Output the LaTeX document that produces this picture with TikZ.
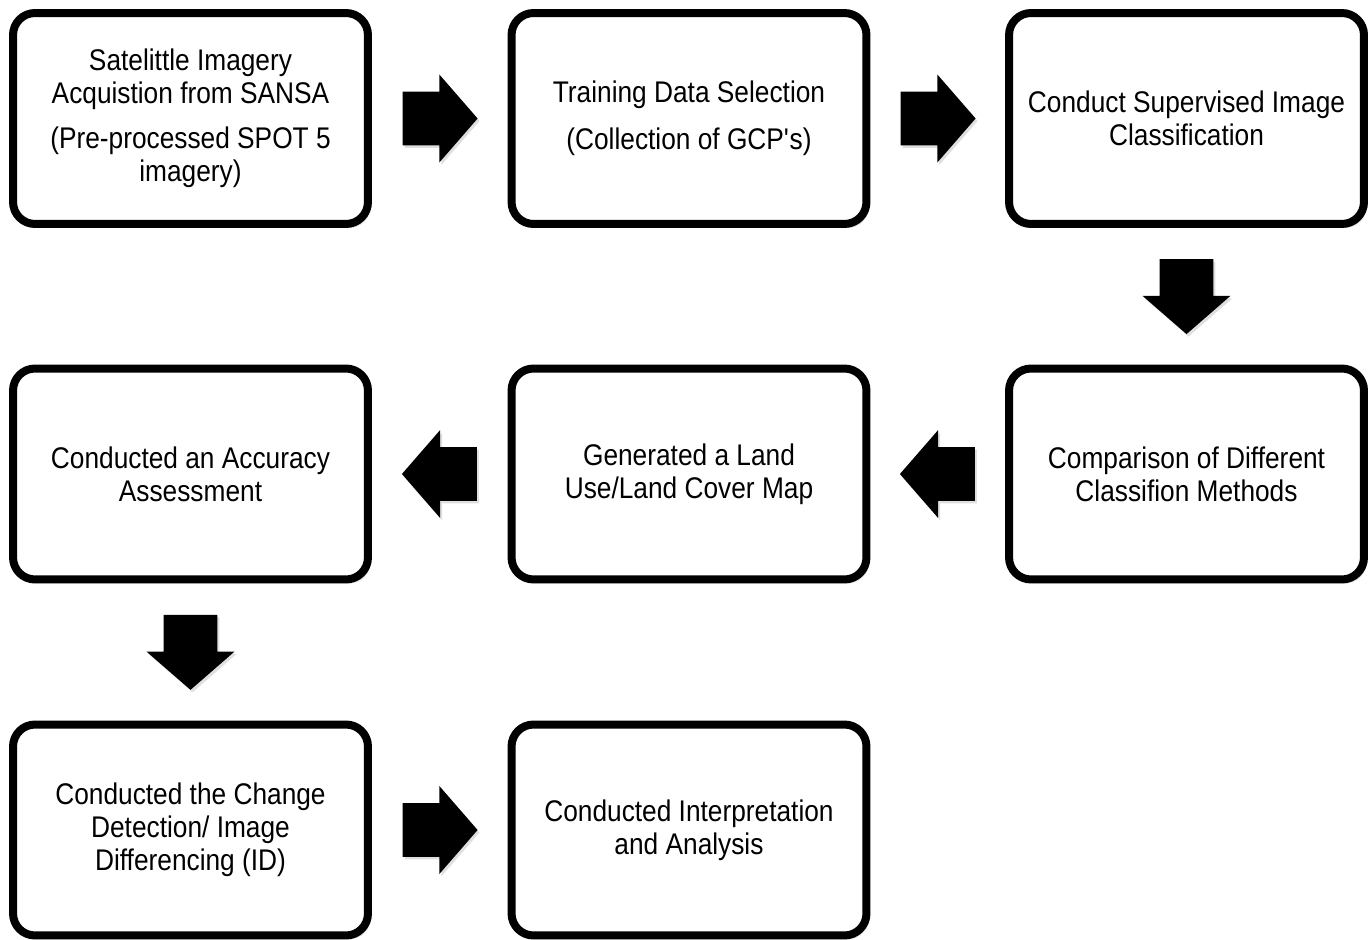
\documentclass[tikz,border=0pt]{standalone}
\usepackage{fontspec}
\setmainfont{Liberation Sans}[FakeStretch=0.88]
\usetikzlibrary{shapes.arrows,shadows,calc}
\begin{document}
\begin{tikzpicture}[x=0.02cm, y=-0.02cm]
    % Node styles
    \tikzset{process box/.style={rectangle, rounded corners=0.44cm, draw=black, line width=0.16cm, fill=white,
        minimum width=7.1cm, minimum height=4.22cm, align=center,
        font=\fontsize{17pt}{18.8pt}\selectfont,
        drop shadow={shadow xshift=0.06cm, shadow yshift=-0.08cm, opacity=0.25}}}
    \tikzset{block arrow/.style={single arrow, fill=black, draw=none, inner xsep=0pt, inner ysep=0.53cm,
        minimum height=1.5cm, minimum width=1.74cm, single arrow head extend=0.34cm,
        single arrow tip angle=98, anchor=tail,
        drop shadow={shadow xshift=0.04cm, shadow yshift=-0.05cm, opacity=0.25}}}
    \useasboundingbox (0,0) rectangle (1371,939);

    % --- Row 1: acquisition, training data, classification ---
    \node[process box] (acquire) at (190.5, 118.5) {Satelittle Imagery\\Acquistion from SANSA\\[6.5pt](Pre-processed SPOT 5\\imagery)};
    \node[process box] (training) at (689, 118.5) {Training Data Selection\\[8pt](Collection of GCP\textquotesingle s)};
    \node[process box] (classify) at (1186.5, 118.5) {Conduct Supervised Image\\Classification};

    % --- Row 2: comparison, land cover map, accuracy ---
    \node[process box] (compare) at (1186.5, 474) {Comparison of Different\\Classifion Methods};
    \node[process box] (lulcmap) at (689, 474) {Generated a Land\\Use/Land Cover Map};
    \node[process box] (accuracy) at (190.5, 474) {Conducted an Accuracy\\Assessment};

    % --- Row 3: change detection, interpretation ---
    \node[process box] (change) at (190.5, 830) {Conducted the Change\\Detection/ Image\\Differencing (ID)};
    \node[process box] (interpret) at (689, 830) {Conducted Interpretation\\and Analysis};

    % --- Block arrows between the steps (tail placed half a length before the gap's middle) ---
    \node[block arrow] (a1) at ($(acquire.east)!0.5!(training.west)+(-37.5,0)$) {};
    \node[block arrow] (a2) at ($(training.east)!0.5!(classify.west)+(-37.5,0)$) {};
    \node[block arrow, rotate=-90] (a3) at ($(classify.south)!0.5!(compare.north)+(0,-37.5)$) {};
    \node[block arrow, rotate=180] (a4) at ($(compare.west)!0.5!(lulcmap.east)+(37.5,0)$) {};
    \node[block arrow, rotate=180] (a5) at ($(lulcmap.west)!0.5!(accuracy.east)+(37.5,0)$) {};
    \node[block arrow, rotate=-90] (a6) at ($(accuracy.south)!0.5!(change.north)+(0,-37.5)$) {};
    \node[block arrow] (a7) at ($(change.east)!0.5!(interpret.west)+(-37.5,0)$) {};

\end{tikzpicture}
\end{document}
